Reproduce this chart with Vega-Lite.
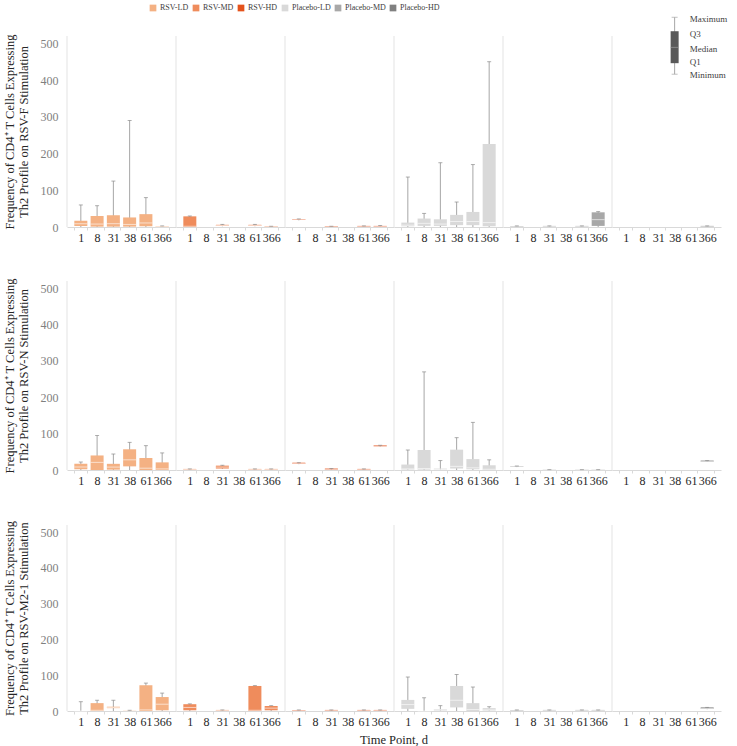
{
  "$schema": "https://vega.github.io/schema/vega-lite/v6.json",
  "padding": {"left": 3, "top": 4, "right": 2, "bottom": 0},
  "background": "white",
  "datasets": {
    "rows": [
      {"stim":"RSV-F","group":"RSV-LD","time":"1","min":0,"q1":3,"median":9,"q3":17,"max":60},
      {"stim":"RSV-F","group":"RSV-LD","time":"8","min":0,"q1":1,"median":8,"q3":30,"max":58},
      {"stim":"RSV-F","group":"RSV-LD","time":"31","min":0,"q1":1,"median":9,"q3":32,"max":125},
      {"stim":"RSV-F","group":"RSV-LD","time":"38","min":0,"q1":1,"median":7,"q3":26,"max":290},
      {"stim":"RSV-F","group":"RSV-LD","time":"61","min":0,"q1":2,"median":11,"q3":35,"max":80},
      {"stim":"RSV-F","group":"RSV-LD","time":"366","min":0,"q1":0,"median":1,"q3":2,"max":3},
      {"stim":"RSV-F","group":"RSV-MD","time":"1","min":0,"q1":0,"median":2,"q3":29,"max":30},
      {"stim":"RSV-F","group":"RSV-MD","time":"31","min":2,"q1":3,"median":4,"q3":6,"max":7},
      {"stim":"RSV-F","group":"RSV-MD","time":"61","min":2,"q1":3,"median":4,"q3":6,"max":7},
      {"stim":"RSV-F","group":"RSV-MD","time":"366","min":0,"q1":0,"median":1,"q3":2,"max":2},
      {"stim":"RSV-F","group":"RSV-HD","time":"1","min":18,"q1":19,"median":20,"q3":21,"max":22},
      {"stim":"RSV-F","group":"RSV-HD","time":"31","min":0,"q1":0,"median":1,"q3":2,"max":2},
      {"stim":"RSV-F","group":"RSV-HD","time":"61","min":1,"q1":1,"median":2,"q3":3,"max":3},
      {"stim":"RSV-F","group":"RSV-HD","time":"366","min":1,"q1":1,"median":2,"q3":3,"max":4},
      {"stim":"RSV-F","group":"Placebo-LD","time":"1","min":0,"q1":2,"median":5,"q3":12,"max":136},
      {"stim":"RSV-F","group":"Placebo-LD","time":"8","min":0,"q1":3,"median":10,"q3":23,"max":37},
      {"stim":"RSV-F","group":"Placebo-LD","time":"31","min":0,"q1":3,"median":8,"q3":21,"max":175},
      {"stim":"RSV-F","group":"Placebo-LD","time":"38","min":0,"q1":5,"median":15,"q3":33,"max":68},
      {"stim":"RSV-F","group":"Placebo-LD","time":"61","min":0,"q1":5,"median":15,"q3":41,"max":170},
      {"stim":"RSV-F","group":"Placebo-LD","time":"366","min":0,"q1":2,"median":12,"q3":226,"max":450},
      {"stim":"RSV-F","group":"Placebo-MD","time":"1","min":0,"q1":1,"median":2,"q3":3,"max":3},
      {"stim":"RSV-F","group":"Placebo-MD","time":"31","min":0,"q1":1,"median":2,"q3":3,"max":3},
      {"stim":"RSV-F","group":"Placebo-MD","time":"61","min":0,"q1":1,"median":2,"q3":3,"max":3},
      {"stim":"RSV-F","group":"Placebo-MD","time":"366","min":0,"q1":3,"median":20,"q3":40,"max":42},
      {"stim":"RSV-F","group":"Placebo-HD","time":"366","min":0,"q1":1,"median":2,"q3":3,"max":3},
      {"stim":"RSV-F","group":"Placebo-HD","time":"38","kind":"key","min":416,"q1":446,"median":489,"q3":533,"max":571},
      {"stim":"RSV-F","group":"Placebo-HD","time":"38","kind":"label","label":"Maximum","value":566},
      {"stim":"RSV-F","group":"Placebo-HD","time":"38","kind":"label","label":"Q3","value":525},
      {"stim":"RSV-F","group":"Placebo-HD","time":"38","kind":"label","label":"Median","value":485},
      {"stim":"RSV-F","group":"Placebo-HD","time":"38","kind":"label","label":"Q1","value":449},
      {"stim":"RSV-F","group":"Placebo-HD","time":"38","kind":"label","label":"Minimum","value":413},

      {"stim":"RSV-N","group":"RSV-LD","time":"1","min":0,"q1":2,"median":8,"q3":17,"max":22},
      {"stim":"RSV-N","group":"RSV-LD","time":"8","min":0,"q1":0,"median":21,"q3":40,"max":95},
      {"stim":"RSV-N","group":"RSV-LD","time":"31","min":0,"q1":1,"median":8,"q3":17,"max":44},
      {"stim":"RSV-N","group":"RSV-LD","time":"38","min":0,"q1":10,"median":28,"q3":57,"max":76},
      {"stim":"RSV-N","group":"RSV-LD","time":"61","min":0,"q1":0,"median":5,"q3":33,"max":67},
      {"stim":"RSV-N","group":"RSV-LD","time":"366","min":0,"q1":0,"median":3,"q3":21,"max":47},
      {"stim":"RSV-N","group":"RSV-MD","time":"1","min":0,"q1":1,"median":2,"q3":3,"max":3},
      {"stim":"RSV-N","group":"RSV-MD","time":"31","min":3,"q1":4,"median":8,"q3":12,"max":13},
      {"stim":"RSV-N","group":"RSV-MD","time":"61","min":0,"q1":1,"median":2,"q3":3,"max":3},
      {"stim":"RSV-N","group":"RSV-MD","time":"366","min":0,"q1":1,"median":2,"q3":3,"max":3},
      {"stim":"RSV-N","group":"RSV-HD","time":"1","min":16,"q1":17,"median":18,"q3":20,"max":20},
      {"stim":"RSV-N","group":"RSV-HD","time":"31","min":0,"q1":1,"median":2,"q3":4,"max":4},
      {"stim":"RSV-N","group":"RSV-HD","time":"61","min":0,"q1":1,"median":2,"q3":3,"max":3},
      {"stim":"RSV-N","group":"RSV-HD","time":"366","min":64,"q1":65,"median":66,"q3":68,"max":68},
      {"stim":"RSV-N","group":"Placebo-LD","time":"1","min":0,"q1":1,"median":3,"q3":15,"max":55},
      {"stim":"RSV-N","group":"Placebo-LD","time":"8","min":0,"q1":1,"median":4,"q3":55,"max":270},
      {"stim":"RSV-N","group":"Placebo-LD","time":"31","min":0,"q1":1,"median":2,"q3":4,"max":26},
      {"stim":"RSV-N","group":"Placebo-LD","time":"38","min":0,"q1":4,"median":10,"q3":56,"max":89},
      {"stim":"RSV-N","group":"Placebo-LD","time":"61","min":0,"q1":2,"median":6,"q3":30,"max":131},
      {"stim":"RSV-N","group":"Placebo-LD","time":"366","min":0,"q1":0,"median":2,"q3":13,"max":28},
      {"stim":"RSV-N","group":"Placebo-MD","time":"1","min":8,"q1":8,"median":9,"q3":10,"max":11},
      {"stim":"RSV-N","group":"Placebo-MD","time":"31","min":0,"q1":0,"median":1,"q3":1,"max":1},
      {"stim":"RSV-N","group":"Placebo-MD","time":"61","min":0,"q1":0,"median":1,"q3":1,"max":1},
      {"stim":"RSV-N","group":"Placebo-MD","time":"366","min":0,"q1":0,"median":1,"q3":1,"max":1},
      {"stim":"RSV-N","group":"Placebo-HD","time":"366","min":23,"q1":23,"median":24,"q3":26,"max":26},

      {"stim":"RSV-M2-1","group":"RSV-LD","time":"1","min":0,"q1":0,"median":0,"q3":0,"max":26},
      {"stim":"RSV-M2-1","group":"RSV-LD","time":"8","min":0,"q1":0,"median":2,"q3":22,"max":30},
      {"stim":"RSV-M2-1","group":"RSV-LD","time":"31","min":0,"q1":8,"median":10,"q3":12,"max":30},
      {"stim":"RSV-M2-1","group":"RSV-LD","time":"38","min":0,"q1":1,"median":1,"q3":2,"max":2},
      {"stim":"RSV-M2-1","group":"RSV-LD","time":"61","min":0,"q1":0,"median":3,"q3":72,"max":78},
      {"stim":"RSV-M2-1","group":"RSV-LD","time":"366","min":0,"q1":2,"median":19,"q3":39,"max":50},
      {"stim":"RSV-M2-1","group":"RSV-MD","time":"1","min":0,"q1":2,"median":10,"q3":19,"max":20},
      {"stim":"RSV-M2-1","group":"RSV-MD","time":"31","min":0,"q1":1,"median":2,"q3":3,"max":3},
      {"stim":"RSV-M2-1","group":"RSV-MD","time":"61","min":0,"q1":0,"median":2,"q3":70,"max":71},
      {"stim":"RSV-M2-1","group":"RSV-MD","time":"366","min":0,"q1":2,"median":8,"q3":14,"max":15},
      {"stim":"RSV-M2-1","group":"RSV-HD","time":"1","min":0,"q1":0,"median":1,"q3":2,"max":3},
      {"stim":"RSV-M2-1","group":"RSV-HD","time":"31","min":0,"q1":1,"median":2,"q3":3,"max":3},
      {"stim":"RSV-M2-1","group":"RSV-HD","time":"61","min":0,"q1":1,"median":2,"q3":3,"max":3},
      {"stim":"RSV-M2-1","group":"RSV-HD","time":"366","min":0,"q1":1,"median":2,"q3":3,"max":3},
      {"stim":"RSV-M2-1","group":"Placebo-LD","time":"1","min":0,"q1":6,"median":18,"q3":31,"max":95},
      {"stim":"RSV-M2-1","group":"Placebo-LD","time":"8","min":0,"q1":0,"median":0,"q3":0,"max":37},
      {"stim":"RSV-M2-1","group":"Placebo-LD","time":"31","min":0,"q1":1,"median":3,"q3":5,"max":15},
      {"stim":"RSV-M2-1","group":"Placebo-LD","time":"38","min":0,"q1":10,"median":30,"q3":70,"max":102},
      {"stim":"RSV-M2-1","group":"Placebo-LD","time":"61","min":0,"q1":0,"median":4,"q3":22,"max":67},
      {"stim":"RSV-M2-1","group":"Placebo-LD","time":"366","min":0,"q1":1,"median":3,"q3":8,"max":12},
      {"stim":"RSV-M2-1","group":"Placebo-MD","time":"1","min":0,"q1":1,"median":2,"q3":3,"max":3},
      {"stim":"RSV-M2-1","group":"Placebo-MD","time":"31","min":0,"q1":1,"median":2,"q3":3,"max":3},
      {"stim":"RSV-M2-1","group":"Placebo-MD","time":"61","min":0,"q1":1,"median":2,"q3":3,"max":3},
      {"stim":"RSV-M2-1","group":"Placebo-MD","time":"366","min":0,"q1":1,"median":2,"q3":3,"max":3},
      {"stim":"RSV-M2-1","group":"Placebo-HD","time":"366","min":5,"q1":6,"median":7,"q3":10,"max":10}
    ]
  },
  "data": {"name": "rows"},
  "config": {
    "view": {"stroke": null},
    "font": "Liberation Serif",
    "axis": {
      "labelFont": "Liberation Serif", "titleFont": "Liberation Serif",
      "labelFontSize": 12, "titleFontSize": 12.5, "titleFontWeight": "normal",
      "labelColor": "#7f7f7f", "titleColor": "#262626",
      "domainColor": "#d9d9d9", "tickColor": "#d9d9d9", "grid": false, "labelOverlap": false
    },
    "legend": {
      "labelFont": "Liberation Serif", "labelFontSize": 8, "labelColor": "#404040",
      "symbolType": "square", "symbolSize": 45, "symbolStrokeWidth": 0,
      "columnPadding": 3, "labelOffset": 3
    },
    "header": {"titleFont": "Liberation Serif", "titleFontSize": 12.5, "titleFontWeight": "normal", "titleColor": "#262626"},
    "facet": {"spacing": 0},
    "tick": {"thickness": 1},
    "concat": {"spacing": 34}
  },
  "vconcat": [
    {
      "transform": [{"filter": "datum.stim == 'RSV-F'"}],
      "facet": {"column": {"field": "group", "type": "nominal", "sort": ["RSV-LD","RSV-MD","RSV-HD","Placebo-LD","Placebo-MD","Placebo-HD"], "header": null}},
      "spacing": 0,
      "bounds": "flush",
      "spec": {
        "width": 109, "height": 191,
        "encoding": {
          "x": {"field": "time", "type": "ordinal", "sort": ["1","8","31","38","61","366"],
            "scale": {"domain": ["1","8","31","38","61","366"], "paddingInner": 0.2, "paddingOuter": 0.45},
            "axis": {"title": null, "labelAngle": 0, "tickBand": "extent", "tickSize": 3, "labelColor": "#262626", "labelPadding": 2}}
        },
        "layer": [
          {
            "transform": [{"window": [{"op": "row_number", "as": "rn"}], "groupby": ["group"]}, {"filter": "datum.rn == 1"}],
            "mark": {"type": "rule", "color": "#e3e3e3", "strokeWidth": 1},
            "encoding": {"x": {"datum": "1", "type": "ordinal", "bandPosition": -0.5625}}
          },
          {
            "transform": [{"filter": "!datum.kind"}],
            "mark": {"type": "rule", "color": "#a6a6a6", "strokeWidth": 1},
            "encoding": {
              "y": {"field": "min", "type": "quantitative", "scale": {"domain": [0, 520], "nice": false},
                "axis": {"values": [0,100,200,300,400,500], "tickCount": 6, "labelOverlap": false, "domain": false, "ticks": false, "labelPadding": 9, "titlePadding": 10, "titleLineHeight": 14,
                  "title": ["Frequency of CD4⁺ T Cells Expressing", "Th2 Profile on RSV-F Stimulation"]}},
              "y2": {"field": "max"}
            }
          },
          {
            "transform": [{"filter": "!datum.kind"}],
            "mark": {"type": "bar", "size": 13},
            "encoding": {
              "y": {"field": "q1", "type": "quantitative"},
              "y2": {"field": "q3"},
              "color": {"field": "group", "type": "nominal",
                "scale": {"domain": ["RSV-LD","RSV-MD","RSV-HD","Placebo-LD","Placebo-MD","Placebo-HD"], "range": ["#F4B183","#EF8C5C","#E4521B","#D9D9D9","#A8A8A8","#808080"]},
                "legend": {"title": null, "orient": "none", "direction": "horizontal", "legendX": 82, "legendY": -32}}
            }
          },
          {
            "transform": [{"filter": "!datum.kind"}],
            "mark": {"type": "tick", "color": "white", "opacity": 0.6, "size": 13},
            "encoding": {"y": {"field": "median", "type": "quantitative"}}
          },
          {
            "transform": [{"filter": "!datum.kind"}],
            "mark": {"type": "tick", "color": "#8c8c8c", "size": 4},
            "encoding": {"y": {"field": "max", "type": "quantitative"}}
          },
          {
            "transform": [{"filter": "datum.kind == 'key'"}],
            "mark": {"type": "rule", "color": "#a6a6a6", "clip": false},
            "encoding": {"y": {"field": "min", "type": "quantitative"}, "y2": {"field": "max"}}
          },
          {
            "transform": [{"filter": "datum.kind == 'key'"}],
            "mark": {"type": "tick", "color": "#a6a6a6", "size": 6, "clip": false},
            "encoding": {"y": {"field": "max", "type": "quantitative"}}
          },
          {
            "transform": [{"filter": "datum.kind == 'key'"}],
            "mark": {"type": "tick", "color": "#a6a6a6", "size": 6, "clip": false},
            "encoding": {"y": {"field": "min", "type": "quantitative"}}
          },
          {
            "transform": [{"filter": "datum.kind == 'key'"}],
            "mark": {"type": "bar", "size": 8, "color": "#595959", "clip": false},
            "encoding": {"y": {"field": "q1", "type": "quantitative"}, "y2": {"field": "q3"}}
          },
          {
            "transform": [{"filter": "datum.kind == 'key'"}],
            "mark": {"type": "tick", "color": "#9a9a9a", "size": 8, "clip": false},
            "encoding": {"y": {"field": "median", "type": "quantitative"}}
          },
          {
            "transform": [{"filter": "datum.kind == 'label'"}],
            "mark": {"type": "text", "align": "left", "dx": 15, "fontSize": 9, "color": "#404040", "clip": false},
            "encoding": {"y": {"field": "value", "type": "quantitative"}, "text": {"field": "label"}}
          }
        ]
      }
    },
    {
      "transform": [{"filter": "datum.stim == 'RSV-N'"}],
      "facet": {"column": {"field": "group", "type": "nominal", "sort": ["RSV-LD","RSV-MD","RSV-HD","Placebo-LD","Placebo-MD","Placebo-HD"], "header": null}},
      "spacing": 0,
      "bounds": "flush",
      "spec": {
        "width": 109, "height": 189,
        "encoding": {
          "x": {"field": "time", "type": "ordinal", "sort": ["1","8","31","38","61","366"],
            "scale": {"domain": ["1","8","31","38","61","366"], "paddingInner": 0.2, "paddingOuter": 0.45},
            "axis": {"title": null, "labelAngle": 0, "tickBand": "extent", "tickSize": 3, "labelColor": "#262626", "labelPadding": 2}}
        },
        "layer": [
          {
            "transform": [{"window": [{"op": "row_number", "as": "rn"}], "groupby": ["group"]}, {"filter": "datum.rn == 1"}],
            "mark": {"type": "rule", "color": "#e3e3e3", "strokeWidth": 1},
            "encoding": {"x": {"datum": "1", "type": "ordinal", "bandPosition": -0.5625}}
          },
          {
            "mark": {"type": "rule", "color": "#a6a6a6", "strokeWidth": 1},
            "encoding": {
              "y": {"field": "min", "type": "quantitative", "scale": {"domain": [0, 520], "nice": false},
                "axis": {"values": [0,100,200,300,400,500], "tickCount": 6, "labelOverlap": false, "domain": false, "ticks": false, "labelPadding": 9, "titlePadding": 10, "titleLineHeight": 14,
                  "title": ["Frequency of CD4⁺ T Cells Expressing", "Th2 Profile on RSV-N Stimulation"]}},
              "y2": {"field": "max"}
            }
          },
          {
            "mark": {"type": "bar", "size": 13},
            "encoding": {
              "y": {"field": "q1", "type": "quantitative"},
              "y2": {"field": "q3"},
              "color": {"field": "group", "type": "nominal",
                "scale": {"domain": ["RSV-LD","RSV-MD","RSV-HD","Placebo-LD","Placebo-MD","Placebo-HD"], "range": ["#F4B183","#EF8C5C","#E4521B","#D9D9D9","#A8A8A8","#808080"]},
                "legend": {"title": null, "orient": "none", "direction": "horizontal", "legendX": 82, "legendY": -32}}
            }
          },
          {
            "mark": {"type": "tick", "color": "white", "opacity": 0.6, "size": 13},
            "encoding": {"y": {"field": "median", "type": "quantitative"}}
          },
          {
            "mark": {"type": "tick", "color": "#8c8c8c", "size": 4},
            "encoding": {"y": {"field": "max", "type": "quantitative"}}
          }
        ]
      }
    },
    {
      "transform": [{"filter": "datum.stim == 'RSV-M2-1'"}],
      "facet": {"column": {"field": "group", "type": "nominal", "sort": ["RSV-LD","RSV-MD","RSV-HD","Placebo-LD","Placebo-MD","Placebo-HD"],
        "title": "Time Point, d", "header": {"labels": false, "titleOrient": "bottom", "titlePadding": -3}}},
      "spacing": 0,
      "bounds": "flush",
      "spec": {
        "width": 109, "height": 186,
        "encoding": {
          "x": {"field": "time", "type": "ordinal", "sort": ["1","8","31","38","61","366"],
            "scale": {"domain": ["1","8","31","38","61","366"], "paddingInner": 0.2, "paddingOuter": 0.45},
            "axis": {"title": null, "labelAngle": 0, "tickBand": "extent", "tickSize": 3, "labelColor": "#262626", "labelPadding": 2}}
        },
        "layer": [
          {
            "transform": [{"window": [{"op": "row_number", "as": "rn"}], "groupby": ["group"]}, {"filter": "datum.rn == 1"}],
            "mark": {"type": "rule", "color": "#e3e3e3", "strokeWidth": 1},
            "encoding": {"x": {"datum": "1", "type": "ordinal", "bandPosition": -0.5625}}
          },
          {
            "mark": {"type": "rule", "color": "#a6a6a6", "strokeWidth": 1},
            "encoding": {
              "y": {"field": "min", "type": "quantitative", "scale": {"domain": [0, 520], "nice": false},
                "axis": {"values": [0,100,200,300,400,500], "tickCount": 6, "labelOverlap": false, "domain": false, "ticks": false, "labelPadding": 9, "titlePadding": 10, "titleLineHeight": 14,
                  "title": ["Frequency of CD4⁺ T Cells Expressing", "Th2 Profile on RSV-M2-1 Stimulation"]}},
              "y2": {"field": "max"}
            }
          },
          {
            "mark": {"type": "bar", "size": 13},
            "encoding": {
              "y": {"field": "q1", "type": "quantitative"},
              "y2": {"field": "q3"},
              "color": {"field": "group", "type": "nominal",
                "scale": {"domain": ["RSV-LD","RSV-MD","RSV-HD","Placebo-LD","Placebo-MD","Placebo-HD"], "range": ["#F4B183","#EF8C5C","#E4521B","#D9D9D9","#A8A8A8","#808080"]},
                "legend": {"title": null, "orient": "none", "direction": "horizontal", "legendX": 82, "legendY": -32}}
            }
          },
          {
            "mark": {"type": "tick", "color": "white", "opacity": 0.6, "size": 13},
            "encoding": {"y": {"field": "median", "type": "quantitative"}}
          },
          {
            "mark": {"type": "tick", "color": "#8c8c8c", "size": 4},
            "encoding": {"y": {"field": "max", "type": "quantitative"}}
          }
        ]
      }
    }
  ]
}
